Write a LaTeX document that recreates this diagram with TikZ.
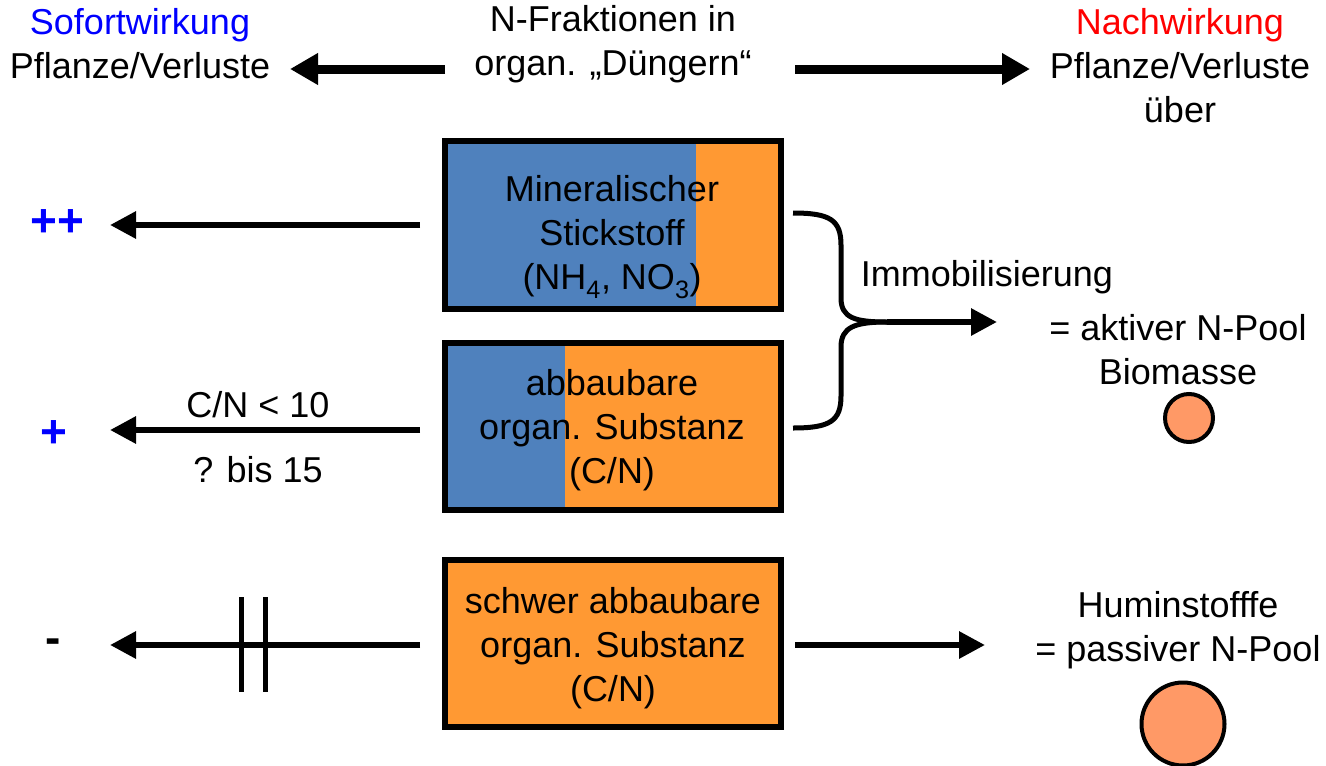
\documentclass[tikz,border=0pt]{standalone}
\usepackage{fontspec}
\setmainfont{Liberation Sans}
\usetikzlibrary{arrows.meta,calc}
\definecolor{nblue}{HTML}{4F81BD}
\definecolor{norange}{HTML}{FF9933}
\definecolor{ncirc}{HTML}{FF9966}
\definecolor{tblue}{HTML}{0000FF}
\definecolor{tred}{HTML}{FF0000}
\begin{document}
\begin{tikzpicture}[x=1pt,y=-1pt,
  txt/.style={align=center, font=\fontsize{36}{44}\selectfont, inner sep=0pt},
  sym/.style={font=\fontsize{46}{50}\selectfont\bfseries, inner sep=0pt},
  box/.style={fill=norange, minimum width=336pt, minimum height=168pt, inner sep=0pt, outer sep=0pt},
  split/.style={path picture={\fill[nblue] (path picture bounding box.south west) rectangle ($(path picture bounding box.north west)!#1!(path picture bounding box.north east)$);}},
  frame/.style={draw=black, line width=6pt},
  arr/.style={line width=6pt, -{Triangle[length=26pt,width=26pt]}},
  bigarr/.style={line width=9pt, -{Triangle[length=28pt,width=30pt]}},
  brace/.style={line width=5pt},
  bar/.style={line width=5pt},
  pool/.style={circle, draw=black, line width=4pt, fill=ncirc, inner sep=0pt}]
\useasboundingbox[fill=white] (0,0) rectangle (1326,766);

% boxes
\node[box, split=0.747] (b1) at (613,225) {};
\draw[frame] (b1.north west) rectangle (b1.south east);
\node[box, split=0.357, minimum height=167pt] (b2) at (613,426.5) {};
\draw[frame] (b2.north west) rectangle (b2.south east);
\node[box, minimum height=167pt] (b3) at (613,643.5) {};
\draw[frame] (b3.north west) rectangle (b3.south east);

\node[txt] (t1) at (612,237) {Mineralischer\\Stickstoff\\(NH\textsubscript{4}, NO\textsubscript{3})};
\node[txt] (t2) at (612,430) {abbaubare\\organ. Substanz\\(C/N)};
\node[txt] (t3) at (613,648) {schwer abbaubare\\organ. Substanz\\(C/N)};

% header
\node[txt] (tsof) at (140,44) {\textcolor{tblue}{Sofortwirkung}\\Pflanze/Verluste};
\node[txt] (tnf) at (613,44) {N-Fraktionen in\\organ. „Düngern“};
\node[txt] (tnach) at (1180,66) {\textcolor{tred}{Nachwirkung}\\Pflanze/Verluste\\über};
\coordinate (hl0) at (445,69);
\coordinate (hl1) at (290,69);
\coordinate (hr0) at (795,69);
\coordinate (hr1) at (1030,69);
\draw[bigarr] (hl0) -- (hl1);
\draw[bigarr] (hr0) -- (hr1);

% left side
\node[sym, text=tblue] (pp) at (57.5,223) {++};
\node[sym, text=tblue] (p) at (53.5,434) {+};
\node[sym] (m) at (53.5,646) {-};
\node[txt] (cn) at (258,405) {C/N < 10};
\node[txt] (bis) at (258,470) {? bis 15};
\coordinate (a1) at (420,225);
\coordinate (a2) at (420,430);
\coordinate (a3) at (420,645);
\coordinate (e1) at (110,225);
\coordinate (e2) at (110,430);
\coordinate (e3) at (110,645);
\draw[arr] (a1) -- (e1);
\draw[arr] (a2) -- (e2);
\draw[arr] (a3) -- (e3);
\coordinate (bar1t) at (241,597);
\coordinate (bar1b) at (241,692);
\coordinate (bar2t) at (265,597);
\coordinate (bar2b) at (265,692);
\draw[bar] (bar1t) -- (bar1b);
\draw[bar] (bar2t) -- (bar2b);

% brace
\coordinate (brA) at (793,213);
\coordinate (brB) at (793,428);
\coordinate (tip) at (887,322);
\coordinate (imE) at (997,322);
\draw[brace] (brA) .. controls (830,213) and (841,220) .. (841,245) -- (841,298) .. controls (841,318) and (855,322) .. (tip);
\draw[brace] (brB) .. controls (830,428) and (841,421) .. (841,396) -- (841,347) .. controls (841,327) and (855,322) .. (tip);
\draw[arr] (tip) -- (imE);
\node[txt] (imm) at (987,277) {Immobilisierung};

% right side
\node[txt] (akt) at (1178,350) {= aktiver N-Pool\\Biomasse};
\node[pool, minimum size=48pt] (c1) at (1189,418) {};
\node[txt] (hum) at (1178,630) {Huminstofffe\\= passiver N-Pool};
\node[pool, minimum size=83pt] (c2) at (1183,724) {};
\coordinate (r0) at (795,645);
\coordinate (r1) at (985,645);
\draw[arr] (r0) -- (r1);
\end{tikzpicture}
\end{document}
